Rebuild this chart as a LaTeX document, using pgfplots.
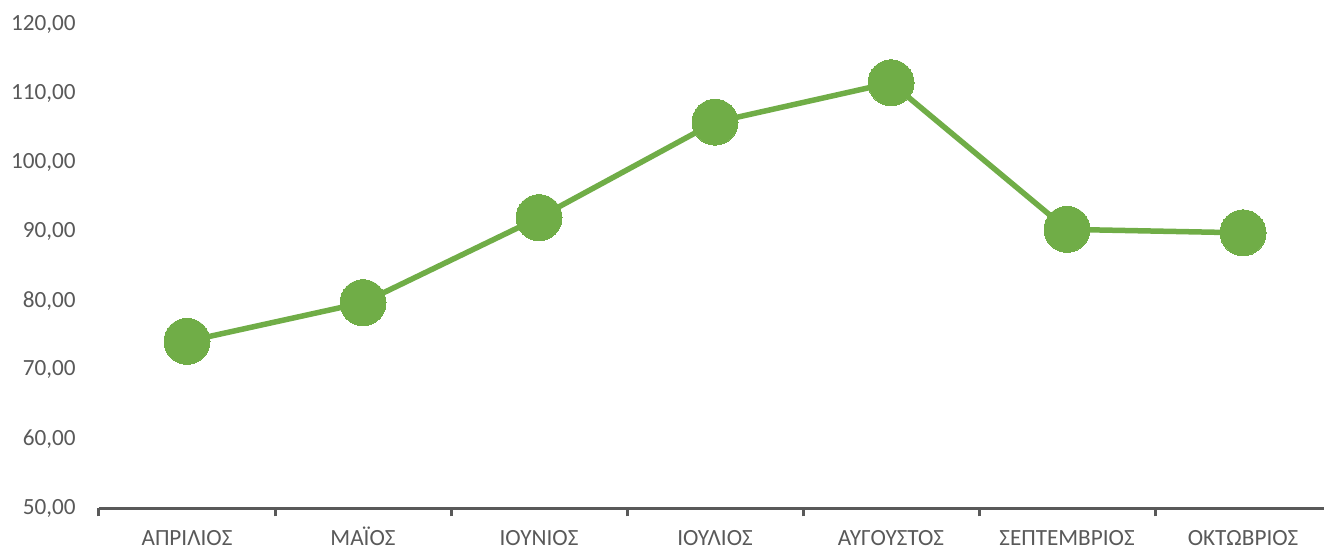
\documentclass[border=0pt]{standalone}
\usepackage{pgfplots}
\pgfplotsset{compat=1.18}
\usepackage{fontspec}
\setmainfont{Carlito}
\definecolor{lgreen}{HTML}{70AD47}
\definecolor{axgray}{HTML}{595959}
\begin{document}
\fontsize{11.5bp}{14bp}\selectfont
\begin{tikzpicture}
\useasboundingbox (-49.5bp,-20bp) rectangle (612.5bp,254bp);
\begin{axis}[
  at={(0,0)}, anchor=south west,
  scale only axis,
  width=612.5bp, height=242bp,
  xmin=-0.5, xmax=6.46,
  ymin=50, ymax=120,
  ytick={50,60,...,120},
  xtick={0,...,6},
  xticklabels={ΑΠΡΙΛΙΟΣ,ΜΑΪΟΣ,ΙΟΥΝΙΟΣ,ΙΟΥΛΙΟΣ,ΑΥΓΟΥΣΤΟΣ,ΣΕΠΤΕΜΒΡΙΟΣ,ΟΚΤΩΒΡΙΟΣ},
  minor xtick={-0.5,0.5,...,5.5},
  major tick length=0pt,
  minor tick length=4.2bp,
  axis x line=bottom,
  axis y line=left,
  tick align=outside,
  x axis line style={draw=axgray, line width=1.5bp, -},
  y axis line style={draw=none},
  minor x tick style={draw=axgray, line width=1.5bp},
  major tick style={draw=none},
  ytick style={draw=none},
  tick label style={text=axgray, font=\fontsize{11.6bp}{14bp}\selectfont},
  yticklabel style={anchor=east, inner sep=0pt, xshift=-11.5bp},
  xticklabel style={anchor=base, inner sep=0pt, yshift=-18.5bp},
  /pgf/number format/.cd, fixed, fixed zerofill, precision=2, use comma, assume math mode=true,
  /pgfplots/.cd,
  clip=false,
]
\addplot[color=lgreen, line width=2.75bp, mark=*, mark size=11.5bp, mark options={fill=lgreen, draw=lgreen, line width=0pt}]
  coordinates {(0,74.1) (1,79.7) (2,92.0) (3,105.8) (4,111.5) (5,90.3) (6,89.8)};
\end{axis}
\end{tikzpicture}
\end{document}
